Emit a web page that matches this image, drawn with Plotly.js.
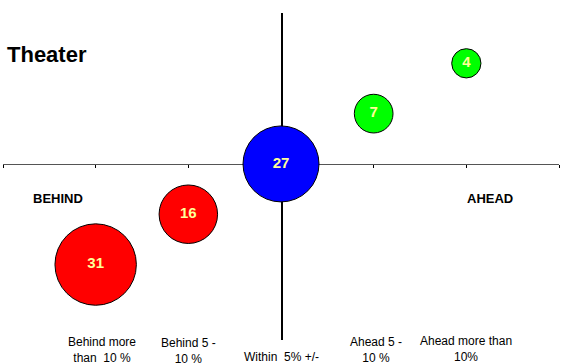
<!DOCTYPE html>
<html>
<head>
<meta charset="utf-8">
<script src="https://cdn.plot.ly/plotly-3.0.1.min.js"></script>
<style>
  html, body { margin: 0; padding: 0; background: #fff; }
  #chart { width: 564px; height: 363px; }
</style>
</head>
<body>
<div id="chart"></div>
<script>
// Schedule status of theater projects
const categories = ["Behind more<br>than  10 %", "Behind 5 -<br>10 %", "Within  5% +/-", "Ahead 5 -<br>10 %", "Ahead more than<br>10%"];
const xPos = [-2, -1, 0, 1, 2];
const yPos = [-2, -1, 0, 1, 2];
const counts = [31, 16, 27, 7, 4];
const bubbleColors = ["#FF0000", "#FF0000", "#0000FF", "#00FF00", "#00FF00"];

const FONT = "Liberation Sans, Arial, sans-serif";
const yRange = [-3.5, 3];
const xRange = [-3, 3];

// area-scaled bubbles: the 27 bubble is about 76 px across
const sizeref = 2 * 27 / (76 * 76);

const trace = {
  type: "scatter",
  mode: "markers+text",
  x: xPos,
  y: yPos,
  text: counts.map(String),
  textposition: "middle center",
  textfont: { family: FONT, size: 15, color: "#FFFF99", weight: "bold" },
  marker: {
    size: counts,
    sizemode: "area",
    sizeref: sizeref,
    color: bubbleColors,
    opacity: 1,
    line: { color: "#000000", width: 1 }
  },
  cliponaxis: false,
  hoverinfo: "skip",
  showlegend: false
};

// bottom category labels, each with its own horizontal/vertical nudge
const labelDx = [0.07, 0.0, 0.0, 0.03, 0.0];
const labelDy = [7, 6, -8, 7, 8];
const annotations = categories.map((c, i) => ({
  xref: "x", yref: "paper",
  x: xPos[i] + labelDx[i], y: 0,
  xanchor: "center", yanchor: "top",
  yshift: labelDy[i],
  text: c,
  showarrow: false,
  align: "center",
  font: { family: FONT, size: 12, color: "#000" }
}));

annotations.push(
  { xref: "paper", yref: "paper", x: 0.004, y: 0.872, xanchor: "left", yanchor: "middle",
    text: "<b>Theater</b>", showarrow: false, font: { family: FONT, size: 22, color: "#000" } },
  { xref: "x", yref: "y", x: -2.41, y: -0.68, xanchor: "center", yanchor: "middle",
    text: "<b>BEHIND</b>", showarrow: false, font: { family: FONT, size: 13, color: "#000" } },
  { xref: "x", yref: "y", x: 2.25, y: -0.68, xanchor: "center", yanchor: "middle",
    text: "<b>AHEAD</b>", showarrow: false, font: { family: FONT, size: 13, color: "#000" } }
);

const layout = {
  width: 564,
  height: 363,
  margin: { l: 3, r: 5, t: 13, b: 23, pad: 0 },
  paper_bgcolor: "#ffffff",
  plot_bgcolor: "#ffffff",
  xaxis: {
    range: xRange,
    dtick: 1,
    tick0: 0,
    showgrid: false,
    zeroline: false,
    showline: true,
    linecolor: "#555555",
    linewidth: 1.5,
    ticks: "outside",
    ticklen: 3,
    tickwidth: 1,
    tickcolor: "#000",
    showticklabels: false,
    anchor: "free",
    position: (0 - yRange[0]) / (yRange[1] - yRange[0]),
    layer: "below traces",
    fixedrange: true
  },
  yaxis: {
    range: yRange,
    showgrid: false,
    zeroline: false,
    showline: true,
    linecolor: "#000000",
    linewidth: 1.5,
    ticks: "",
    showticklabels: false,
    anchor: "free",
    position: (0 - xRange[0]) / (xRange[1] - xRange[0]),
    layer: "below traces",
    fixedrange: true
  },
  annotations: annotations
};

Plotly.newPlot("chart", [trace], layout, { displayModeBar: false, staticPlot: true });
</script>
</body>
</html>
